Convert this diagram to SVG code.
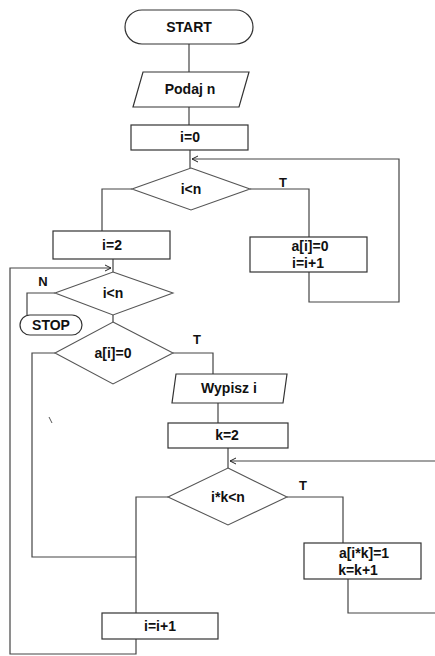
<svg xmlns="http://www.w3.org/2000/svg" width="435" height="656" viewBox="0 0 435 656">
<defs>
<marker id="arr" markerWidth="8" markerHeight="8" refX="7" refY="4" orient="auto" markerUnits="userSpaceOnUse">
<path d="M1,1 L7,4 L1,7" fill="none" stroke="#222" stroke-width="1"/>
</marker>
</defs>
<style>
.n{fill:#fff;stroke:#333;stroke-width:1.2}
.d{fill:#fff;stroke:#555;stroke-width:1.1}
.c{fill:none;stroke:#444;stroke-width:1.2}
text{font-family:"Liberation Sans",Arial,sans-serif;font-weight:bold;font-size:14px;fill:#111;text-anchor:middle}
.lbl{font-size:13px}
</style>
<rect width="435" height="656" fill="#fff"/>
<g id="connectors">
<polyline class="c" points="189,44 189,72"/>
<polyline class="c" points="189,107 189,125"/>
<polyline class="c" points="190,150 190,168"/>
<polyline class="c" points="309,272 309,302 399,302 399,159 192,159" marker-end="url(#arr)"/>
<polyline class="c" points="250,189 309,189 309,237"/>
<polyline class="c" points="132,189 102,189 102,231"/>
<polyline class="c" points="113,259 113,272"/>
<polyline class="c" points="136,639 136,654 10,654 10,268 111,268" marker-end="url(#arr)"/>
<polyline class="c" points="55,293 27,293 27,315"/>
<polyline class="c" points="113,315 113,322"/>
<polyline class="c" points="173,353 213,353 213,374"/>
<polyline class="c" points="55,353 32,353 32,557 136,557"/>
<polyline class="c" points="218,403 218,423"/>
<polyline class="c" points="228,448 228,468"/>
<polyline class="c" points="435,461 230,461" marker-end="url(#arr)"/>
<polyline class="c" points="287,497 343,497 343,543"/>
<polyline class="c" points="348,579 348,613 435,613"/>
<polyline class="c" points="168,497 136,497 136,613"/>
<line x1="49" y1="417" x2="52" y2="423" stroke="#555" stroke-width="1"/>
<text class="lbl" x="283" y="187">T</text>
<text class="lbl" x="43" y="286">N</text>
<text class="lbl" x="197" y="344">T</text>
<text class="lbl" x="303" y="490">T</text>
</g>
<g id="start"><rect class="n" x="125" y="10" width="128" height="34" rx="17"/><text x="189" y="32">START</text></g>
<g id="input"><polygon class="n" points="143,72 249,72 239,107 133,107"/><text x="190" y="94">Podaj n</text></g>
<g id="i0"><rect class="n" x="131" y="125" width="117" height="25"/><text x="190" y="142">i=0</text></g>
<g id="d1"><polygon class="d" points="191,168 250,189 191,210 132,189"/><text x="191" y="194">i&lt;n</text></g>
<g id="a0"><rect class="n" x="250" y="237" width="117" height="35"/><text x="310" y="251">a[i]=0</text><text x="308" y="268">i=i+1</text></g>
<g id="i2"><rect class="n" x="53" y="231" width="117" height="28"/><text x="112" y="250">i=2</text></g>
<g id="d2"><polygon class="d" points="113,272 173,293 113,315 55,293"/><text x="113" y="298">i&lt;n</text></g>
<g id="stop"><rect class="n" x="20" y="315" width="62" height="20" rx="10"/><text x="51" y="330">STOP</text></g>
<g id="d3"><polygon class="d" points="113,322 173,353 113,384 55,353"/><text x="113" y="358">a[i]=0</text></g>
<g id="wypisz"><polygon class="n" points="176,374 287,374 283,403 172,403"/><text x="229" y="393">Wypisz i</text></g>
<g id="k2"><rect class="n" x="168" y="423" width="120" height="25"/><text x="227" y="440">k=2</text></g>
<g id="d4"><polygon class="d" points="228,468 287,497 228,525 168,497"/><text x="228" y="502">i*k&lt;n</text></g>
<g id="ak"><rect class="n" x="304" y="543" width="117" height="36"/><text x="364" y="558">a[i*k]=1</text><text x="358" y="575">k=k+1</text></g>
<g id="ii1"><rect class="n" x="102" y="613" width="116" height="26"/><text x="160" y="631">i=i+1</text></g>
</svg>
